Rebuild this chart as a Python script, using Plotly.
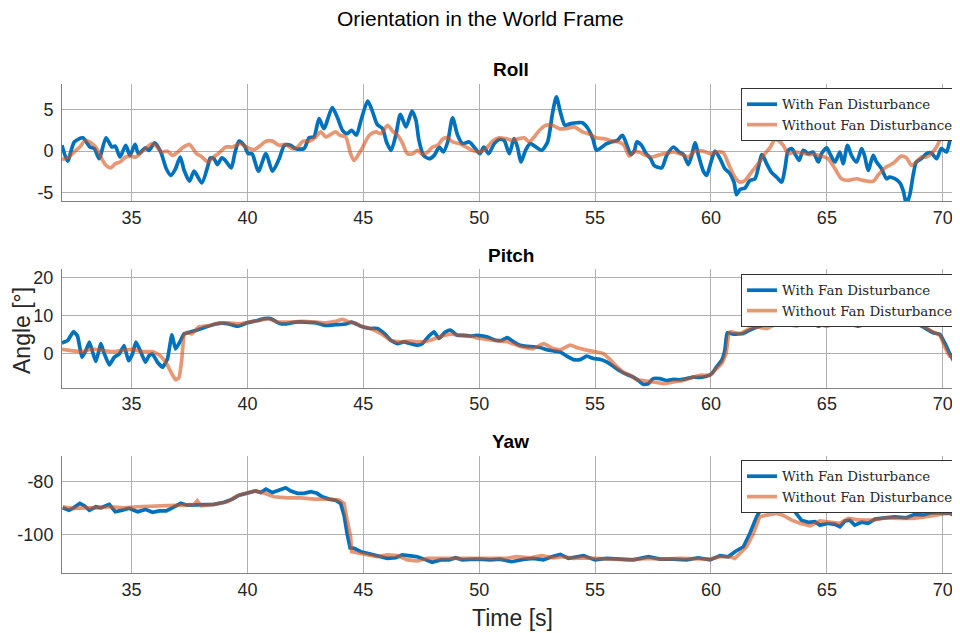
import plotly.graph_objects as go

# ---------------- data ----------------
roll_blue_t = [32.0,32.24,32.53,32.9,33.2,33.4,33.6,33.9,34.15,34.3,34.5,34.75,34.93,35.15,35.3,35.6,35.75,36.0,36.26,36.5,36.7,36.9,37.1,37.27,37.5,37.7,38.03,38.3,38.4,38.56,38.7,38.9,39.07,39.3,39.47,39.64,39.86,40.04,40.2,40.47,40.8,41.08,41.37,41.6,41.86,42.08,42.44,42.66,42.87,43.09,43.3,43.66,43.9,44.1,44.3,44.5,44.7,44.9,
               45.19,45.4,45.6,45.83,46.0,46.2,46.4,46.6,46.84,47.1,47.27,47.4,47.6,47.84,48.06,48.28,48.45,48.64,48.85,49.07,49.28,49.57,49.78,50.03,50.2,50.4,50.65,50.86,51.07,51.3,51.5,51.65,51.8,52.0,52.2,52.5,52.7,52.95,53.16,53.33,53.5,53.7,53.95,54.24,54.45,54.67,54.9,55.06,55.3,55.5,55.7,55.96,56.18,56.35,56.54,56.7,56.8,57.0,57.2,57.4,57.54,
               57.87,58.09,58.38,58.62,58.81,59.02,59.17,59.31,59.48,59.67,59.81,60.0,60.17,60.39,60.6,60.82,61.0,61.1,61.25,61.47,61.68,61.9,62.2,62.4,62.6,62.83,63.05,63.19,63.33,63.48,63.62,63.8,63.98,64.2,64.4,64.63,64.77,64.99,65.13,65.35,65.56,65.7,65.89,66.06,66.28,66.5,66.64,66.78,67.0,67.14,67.36,67.57,67.7,67.93,68.15,68.3,68.43,68.58,68.72,68.86,69.08,69.3,69.5,69.73,69.94,70.16,70.37,70.6,70.73]
roll_blue_v = [0.7,-1.2,1.1,1.6,0.5,0.3,-0.9,1.6,0.5,0.6,-0.7,0.7,-0.5,0.8,-0.3,0.4,0.1,1.0,-0.1,-2.1,-2.9,-2.1,-0.7,-2.3,-3.6,-2.4,-3.8,-1.7,-0.8,-0.9,-1.6,-0.8,-1.2,-2.0,-0.1,1.2,0.7,-0.3,-0.3,-2.4,-0.3,-2.4,-0.9,0.7,0.7,0.3,0.3,1.6,1.7,3.9,2.7,5.2,3.9,2.5,2.1,2.5,1.9,3.7,
               6.0,4.7,3.2,2.7,1.1,0.1,1.9,4.4,2.9,4.8,3.7,1.3,-0.5,-0.9,-0.5,0.5,-0.1,1.1,4.0,1.9,0.9,1.1,0.5,-0.3,0.5,-0.3,0.9,1.4,1.3,-0.3,1.5,0.5,-1.3,0.1,0.9,0.4,0.1,1.1,4.5,6.5,4.7,3.1,3.3,3.4,3.4,2.8,1.5,0.1,0.5,0.9,1.1,1.3,1.9,0.9,-0.4,0.1,1.1,0.7,-0.3,-0.9,-1.7,
               -2.0,-0.5,0.5,-0.1,-0.4,-1.6,-0.5,1.0,-0.7,-2.4,-2.9,-1.3,0.0,-0.9,-2.1,-2.7,-3.8,-5.2,-4.6,-4.4,-3.5,-3.3,-0.4,-1.5,-2.5,-3.1,-3.7,-2.1,0.1,0.3,-0.3,-1.1,0.1,-0.3,-0.1,-1.3,-0.3,0.4,-0.3,-1.3,-0.1,-1.5,0.7,-0.5,-1.3,0.3,-0.7,-2.3,-0.5,-1.3,-2.1,-3.3,-3.1,-3.3,-3.8,-4.8,-6.3,-5.2,-2.9,-1.3,-0.9,-0.3,-0.2,-0.9,0.3,-0.1,1.9,2.5,1.7]

roll_orange_t = [32.0,32.3,32.6,32.8,33.0,33.3,33.5,33.75,33.9,34.1,34.3,34.5,34.75,34.97,35.2,35.4,35.6,35.9,36.1,36.3,36.55,36.77,37.0,37.2,37.5,37.8,38.0,38.3,38.5,38.78,39.07,39.35,39.7,40.0,40.3,40.57,40.8,41.08,41.37,41.65,41.94,42.16,42.4,42.66,42.95,43.16,43.38,43.6,43.8,44.0,44.24,44.45,44.6,44.9,
                 45.26,45.55,45.76,46.05,46.26,46.48,46.7,46.9,47.13,47.34,47.56,47.77,47.99,48.2,48.45,48.64,48.85,49.14,49.43,49.7,50.0,50.3,50.57,50.86,51.15,51.44,51.72,51.94,52.15,52.37,52.6,52.87,53.16,53.45,53.74,54.1,54.45,54.8,55.03,55.39,55.75,56.03,56.25,56.47,56.68,56.9,57.18,57.47,57.7,
                 58.02,58.38,58.74,59.02,59.31,59.67,59.96,60.24,60.53,60.75,61.03,61.25,61.47,61.75,62.04,62.33,62.54,62.76,62.9,63.12,63.33,63.62,63.9,64.2,64.48,64.77,65.06,65.35,65.63,65.92,66.28,66.57,67.0,67.2,67.5,67.7,67.93,68.2,68.43,68.65,68.86,69.08,69.3,69.5,69.73,69.94,70.23,70.5,70.73]
roll_orange_v = [-1.0,-0.7,0.1,0.6,1.3,0.9,0.3,-1.1,-1.7,-2.0,-1.5,-1.3,-0.7,-0.6,-0.7,-0.2,0.3,0.9,0.5,-0.1,0.0,-0.5,-0.1,0.4,0.8,-0.3,-0.6,-1.3,-0.8,-0.2,0.5,0.5,0.9,0.4,0.2,0.7,1.2,1.2,0.7,0.8,0.3,0.5,1.2,1.2,1.7,2.3,1.7,2.0,2.3,1.9,1.7,-0.3,-1.1,0.1,
                 1.9,2.3,2.1,3.1,2.4,1.9,0.9,-0.3,-0.3,0.1,-0.4,-0.1,0.5,0.7,1.5,1.6,1.1,0.9,0.5,0.1,-0.1,0.3,1.2,1.6,1.5,1.3,1.5,1.6,1.1,1.7,2.5,3.1,3.1,2.7,2.7,2.9,2.3,2.0,1.6,1.5,1.2,1.1,0.7,-0.6,-0.1,-0.1,-0.5,-0.7,-0.5,
                 -0.3,-0.1,-0.4,-0.7,0.0,0.0,-0.3,-0.1,-0.2,-1.5,-3.1,-3.7,-3.5,-2.5,-1.5,-0.3,0.4,1.4,1.3,0.7,-0.3,-0.1,-0.2,-0.4,-0.4,-0.6,-0.9,-2.1,-3.3,-3.5,-3.3,-3.5,-3.6,-2.9,-2.0,-1.7,-1.3,-0.6,-0.8,-1.7,-1.3,-0.7,-0.7,-0.3,0.5,1.7,3.1,3.1,2.5]

pitch_blue_t = [32.0,32.24,32.5,32.67,32.86,33.03,33.18,33.3,33.46,33.68,33.8,34.04,34.25,34.47,34.68,34.87,35.04,35.19,35.4,35.6,35.76,35.9,36.12,36.34,36.55,36.74,36.9,37.08,37.27,37.5,37.77,38.2,38.64,38.9,39.2,39.57,40.0,40.43,40.72,41.0,41.36,41.65,42.08,42.5,42.95,43.38,43.8,44.24,44.5,44.9,
                45.3,45.6,45.9,46.18,46.47,46.75,47.04,47.33,47.54,47.83,48.05,48.26,48.55,48.76,49.05,49.34,49.63,49.9,50.33,50.7,50.98,51.2,51.48,51.77,52.05,52.34,52.63,52.92,53.2,53.5,53.78,54.07,54.35,54.64,54.93,55.2,55.5,55.8,56.08,56.36,56.65,56.87,57.08,57.3,57.5,57.8,58.09,58.38,58.66,58.95,59.24,59.5,59.8,60.03,60.24,60.46,60.6,60.7,60.96,61.4,61.68,62.1,62.54,62.97,63.4,63.84,64.2,64.63,65.06,65.5,65.9,66.35,66.78,67.2,67.64,68.08,68.3,68.58,68.86,69.15,69.58,69.87,70.1,70.3,70.5,70.7]
pitch_blue_v = [2.8,3.4,5.8,4.6,-1.0,0.8,3.0,0.8,-2.1,2.6,0.4,-3.0,-1.0,-0.1,2.1,-1.9,-0.1,3.0,0.4,-2.3,-0.5,-0.1,-2.3,-3.6,-1.4,4.9,1.2,3.0,5.2,5.6,6.1,7.0,7.8,8.0,7.8,7.2,8.1,8.7,9.2,9.2,8.0,7.8,8.3,8.3,8.1,7.4,7.6,7.8,8.3,7.2,
                6.6,6.6,5.3,3.5,2.6,3.1,2.6,2.2,2.6,4.6,5.7,4.0,5.7,6.2,4.8,4.8,4.6,4.8,4.4,3.5,3.5,4.2,3.1,2.2,1.9,1.8,1.6,1.0,0.7,0.4,-0.7,-1.6,-1.6,-0.7,-1.3,-1.5,-2.2,-3.4,-4.6,-5.5,-6.2,-7.1,-8.1,-7.9,-6.6,-6.6,-7.1,-6.8,-6.9,-6.6,-6.2,-6.3,-6.0,-5.3,-3.5,-1.8,0.9,5.5,5.1,5.3,6.2,7.2,7.8,8.1,7.5,7.9,8.6,7.2,8.4,7.5,7.9,7.2,7.9,8.1,8.2,8.1,7.7,8.3,7.9,7.0,5.5,5.1,2.6,0.0,-2.2,-1.8]

pitch_orange_t = [32.0,32.46,32.9,33.3,33.75,34.2,34.6,35.04,35.47,35.9,36.2,36.48,36.7,36.9,37.05,37.17,37.27,37.4,37.6,37.9,38.35,38.78,39.2,39.64,40.07,40.5,40.93,41.3,41.8,42.37,42.95,43.38,43.8,44.1,44.38,44.67,44.9,
                  45.3,45.75,46.18,46.6,47.04,47.33,47.6,47.9,48.2,48.5,48.8,49.2,49.63,49.9,50.6,51.2,51.77,52.34,52.77,53.2,53.5,53.92,54.2,54.64,55.07,55.36,55.65,55.93,56.22,56.5,56.8,57.08,57.5,57.95,58.38,58.8,59.24,59.6,59.96,60.17,60.46,60.65,60.8,61.25,61.68,61.97,62.4,62.83,63.26,63.7,64.1,64.56,65.0,65.4,65.85,66.27,66.7,67.28,67.85,68.3,68.7,69.15,69.58,69.87,70.1,70.3,70.7]
pitch_orange_v = [1.1,0.7,0.5,1.2,0.8,0.5,0.8,1.1,0.5,0.5,-0.4,-2.3,-4.9,-6.9,-6.3,-1.4,4.9,5.6,5.2,7.0,7.4,8.0,8.1,7.8,8.3,8.7,9.2,8.3,8.3,8.5,8.3,8.1,8.5,9.0,8.3,8.0,7.2,
                  6.6,5.3,3.5,3.1,3.3,3.1,3.1,3.5,4.2,4.8,5.1,4.8,4.6,4.1,3.5,3.1,1.9,1.3,2.6,1.3,1.0,2.2,1.6,0.9,0.4,0.0,-1.6,-3.4,-4.9,-5.7,-6.9,-7.1,-7.5,-7.9,-7.5,-7.1,-6.2,-5.7,-5.7,-4.4,-2.6,0.0,5.7,5.3,6.6,7.0,6.6,7.8,7.8,7.2,8.4,7.9,7.2,8.1,8.4,8.6,8.6,8.8,8.5,8.8,8.5,7.2,5.7,4.8,1.6,-0.7,-1.3]

yaw_blue_t = [32.03,32.3,32.5,32.77,32.96,33.18,33.46,33.68,34.04,34.3,34.6,34.9,35.26,35.6,35.9,36.2,36.5,36.77,37.13,37.4,37.77,38.13,38.56,39.0,39.35,39.64,40.0,40.36,40.57,40.8,41.08,41.37,41.65,41.87,42.16,42.44,42.73,43.0,43.23,43.52,43.8,44.02,44.17,44.3,44.43,44.6,44.9,45.17,45.6,46.03,46.4,46.68,47.04,47.33,47.7,47.97,48.33,48.7,48.98,49.27,49.63,50.0,
              50.47,50.9,51.4,51.9,52.34,52.77,53.13,53.5,53.85,54.2,54.5,55.0,55.5,56.08,56.65,57.3,57.8,58.38,58.95,59.45,59.96,60.39,60.75,61.03,61.4,61.68,61.97,62.18,62.54,62.97,63.33,63.62,63.9,64.2,64.48,64.7,65.06,65.35,65.56,65.78,65.99,66.2,66.5,66.78,67.07,67.5,67.93,68.43,68.8,69.15,69.5,69.94,70.3,70.7]
yaw_blue_v = [-89.9,-90.8,-89.9,-88.2,-89.1,-90.8,-89.5,-89.9,-88.6,-91.4,-90.8,-90.1,-91.4,-90.5,-91.6,-91.1,-91.1,-89.9,-88.2,-88.9,-88.9,-88.9,-88.6,-87.8,-86.6,-85.1,-84.4,-83.5,-84.1,-82.8,-84.1,-83.2,-82.3,-83.5,-84.4,-84.4,-83.8,-84.4,-85.7,-86.6,-87.0,-88.2,-92.7,-99.6,-105.1,-105.3,-106.6,-107.2,-108.2,-109.1,-108.9,-107.8,-108.2,-108.5,-109.7,-110.6,-109.7,-109.7,-108.9,-109.7,-109.5,-109.4,
              -109.7,-109.4,-110.4,-109.5,-109.1,-109.7,-108.5,-107.6,-109.1,-108.5,-108.1,-109.7,-109.1,-109.4,-109.7,-108.5,-109.4,-109.4,-109.7,-108.9,-109.7,-108.1,-108.5,-106.6,-104.7,-99.6,-93.3,-90.1,-90.4,-89.9,-89.5,-91.4,-94.6,-95.4,-95.2,-96.5,-95.8,-96.2,-97.1,-94.9,-94.6,-96.5,-95.4,-95.8,-94.2,-93.7,-93.3,-93.7,-92.4,-92.7,-91.8,-91.8,-92.0,-93.3]

yaw_orange_t = [32.03,32.46,32.96,33.53,34.1,34.68,35.26,35.83,36.55,37.27,37.7,37.84,37.99,38.56,39.14,39.57,39.93,40.3,40.73,41.15,41.72,42.3,42.87,43.45,43.95,44.17,44.3,44.45,44.5,44.8,45.17,45.6,46.03,46.47,46.9,47.33,47.76,48.2,48.76,49.34,50.04,
                50.6,51.2,51.6,52.2,52.7,53.2,53.6,54.07,54.5,55.07,55.8,56.5,57.23,57.95,58.66,59.38,59.96,60.39,60.82,61.03,61.25,61.54,61.83,62.1,62.4,62.83,63.1,63.48,63.84,64.27,64.7,65.13,65.56,65.92,66.42,66.99,67.57,68.15,68.72,69.3,69.7,70.16,70.7]
yaw_orange_v = [-89.5,-90.1,-89.9,-89.9,-89.5,-89.9,-89.5,-89.2,-89.1,-88.9,-88.6,-87.3,-89.1,-88.6,-87.6,-85.3,-84.4,-83.5,-84.4,-85.7,-86.1,-86.1,-86.6,-86.6,-87.0,-88.2,-94.6,-100.9,-106.6,-107.2,-107.8,-108.5,-107.8,-108.1,-109.7,-110.1,-109.1,-109.1,-109.4,-109.4,-109.1,
                -109.4,-109.1,-108.5,-108.9,-108.1,-108.9,-108.5,-109.1,-108.9,-109.1,-109.4,-109.7,-109.1,-109.4,-109.1,-109.1,-109.4,-108.5,-108.5,-109.1,-107.2,-104.7,-99.6,-93.3,-92.7,-92.0,-92.7,-94.6,-95.8,-96.7,-94.9,-95.4,-95.8,-93.9,-94.6,-94.6,-93.7,-93.9,-93.9,-93.3,-92.7,-92.0,-91.6]

x_tick_vals = [35, 40, 45, 50, 55, 60, 65, 70]
roll_ticks = [-5, 0, 5]
pitch_ticks = [0, 10, 20]
yaw_ticks = [-100, -80]
series_names = ["With Fan Disturbance", "Without Fan Disturbance"]

# ---------------- style ----------------
OFF = 8                      # page body margin of the browser
W, H = 960 - OFF, 633 - OFF
ML, MR = 54, 1
BLUE = "#0072BD"
ORANGE = "#D95319"
GRID = "#b0b0b0"
AXLINE = "#808080"
SANS = "Liberation Sans, Arial, sans-serif"
TICKFONT = dict(family=SANS, size=18, color="#262626")


def py(p):
    return 1 - (p - OFF) / H


def px(p):
    return (p - OFF - ML) / (W - ML - MR)


panels = [
    ("Roll", roll_blue_t, roll_blue_v, roll_orange_t, roll_orange_v, roll_ticks, [-6, 8], (84.3, 201.3), 88, 70, "spline", 0.7),
    ("Pitch", pitch_blue_t, pitch_blue_v, pitch_orange_t, pitch_orange_v, pitch_ticks, [-9, 22.2], (269.3, 387.7), 274, 255, "spline", 0.4),
    ("Yaw", yaw_blue_t, yaw_blue_v, yaw_orange_t, yaw_orange_v, yaw_ticks, [-114.8, -70.1], (455.7, 573.3), 460, 441, "linear", None),
]

fig = go.Figure()
annotations = []
layout = {}
for i, (name, bt, bv, ot, ov, yt, yr, (ytop, ybot), legtop, titley, shape, sm) in enumerate(panels):
    k = "" if i == 0 else str(i + 1)
    leg = "legend" + k
    fig.add_trace(go.Scatter(x=bt, y=bv, mode="lines", name=series_names[0],
                             line=dict(color=BLUE, width=3.7, shape=shape, smoothing=sm),
                             xaxis="x" + k, yaxis="y" + k, legend=leg))
    fig.add_trace(go.Scatter(x=ot, y=ov, mode="lines", name=series_names[1],
                             line=dict(color=ORANGE, width=3.7, shape=shape, smoothing=sm),
                             opacity=0.6, xaxis="x" + k, yaxis="y" + k, legend=leg))
    layout["xaxis" + k] = dict(domain=[0, 1], range=[32, 70.7], tickvals=x_tick_vals,
                               ticktext=[str(v) for v in x_tick_vals],
                               showgrid=True, gridcolor=GRID, gridwidth=1, zeroline=False,
                               showline=True, linecolor=AXLINE, linewidth=1, ticks="",
                               tickfont=TICKFONT, anchor="y" + k)
    layout["yaxis" + k] = dict(domain=[py(ybot), py(ytop)], range=yr, tickvals=yt,
                               ticktext=[str(v) for v in yt],
                               showgrid=True, gridcolor=GRID, gridwidth=1, zeroline=False,
                               showline=True, linecolor=AXLINE, linewidth=1, ticks="",
                               tickfont=TICKFONT, anchor="x" + k, ticklabelstandoff=4)
    layout[leg] = dict(x=1, xanchor="right", y=py(legtop), yanchor="top",
                       bgcolor="white", bordercolor="#333333", borderwidth=1,
                       font=dict(family="DejaVu Serif, Liberation Serif, serif", size=13.4, color="#262626"),
                       itemwidth=30, tracegroupgap=0)
    annotations.append(dict(text="<b>" + name + "</b>", x=0.5, y=py(titley), xref="paper", yref="paper",
                            showarrow=False, xanchor="center", yanchor="middle",
                            font=dict(family=SANS, size=19, color="black")))

annotations.append(dict(text="Orientation in the World Frame", x=px(480), y=py(18), xref="paper", yref="paper",
                        showarrow=False, xanchor="center", yanchor="middle",
                        font=dict(family=SANS, size=21, color="black")))
annotations.append(dict(text="Time [s]", x=px(513), y=py(618), xref="paper", yref="paper",
                        showarrow=False, xanchor="center", yanchor="middle",
                        font=dict(family=SANS, size=23, color="#262626")))
annotations.append(dict(text="Angle [°]", x=px(22), y=py(331), xref="paper", yref="paper",
                        showarrow=False, xanchor="center", yanchor="middle", textangle=-90,
                        font=dict(family=SANS, size=23, color="#262626")))

fig.update_layout(width=W, height=H, margin=dict(l=ML, r=MR, t=0, b=0, autoexpand=False),
                  paper_bgcolor="white", plot_bgcolor="white", annotations=annotations,
                  showlegend=True, **layout)

fig.write_html("out.html")
